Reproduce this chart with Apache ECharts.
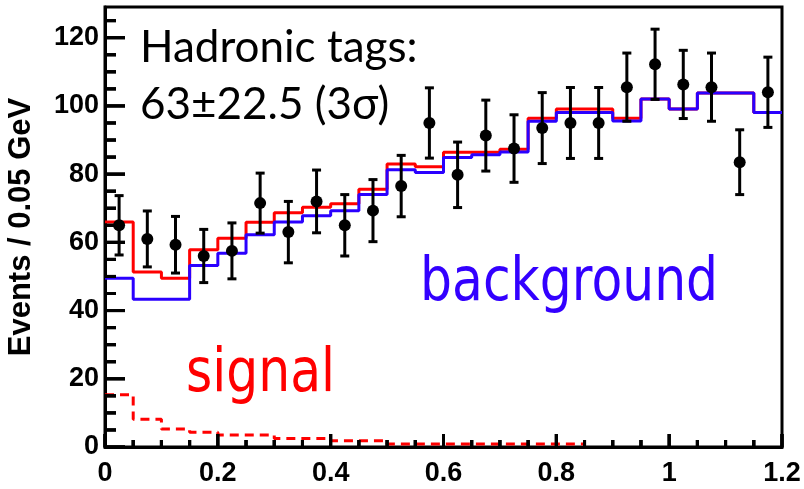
<!DOCTYPE html>
<html>
<head>
<meta charset="utf-8">
<script src="https://cdn.jsdelivr.net/npm/echarts@6/dist/echarts.min.js"></script>
<style>
html,body{margin:0;padding:0;background:#fff;}
#chart{width:804px;height:489px;}
</style>
</head>
<body>
<div id="chart"></div>
<script>
// ---- data ----
const binEdges = [0, 0.05, 0.1, 0.15, 0.2, 0.25, 0.3, 0.35, 0.4, 0.45, 0.5, 0.55, 0.6,
                  0.65, 0.7, 0.75, 0.8, 0.85, 0.9, 0.95, 1.0, 1.05, 1.1, 1.15, 1.2];
const binCenters = [0.025, 0.075, 0.125, 0.175, 0.225, 0.275, 0.325, 0.375, 0.425, 0.475,
                    0.525, 0.575, 0.625, 0.675, 0.725, 0.775, 0.825, 0.875, 0.925, 0.975,
                    1.025, 1.075, 1.125, 1.175];
const dataValues = [65, 61, 59.3, 56, 57.5, 71.5, 63, 72, 65, 69.3, 76.5, 95, 79.8, 91.3,
                    87.5, 93.5, 95, 95, 105.5, 112.2, 106.3, 105.5, 83.5, 104];
const dataErrors = [8.7, 8.2, 8.3, 7.8, 8.2, 8.8, 9, 9.2, 9, 9.1, 9, 10.3, 9.6, 10.4,
                    9.9, 10.4, 10.4, 10.4, 10, 10.3, 10, 10, 9.5, 10.3];
const background = [49.5, 43.3, 43.3, 53.2, 56.8, 62.2, 66.0, 67.8, 69.3, 74.0, 81.3, 80.5,
                    84.9, 85.7, 86.5, 95.5, 98.1, 98.1, 95.6, 102.0, 99.1, 103.8, 103.8, 98.1];
const total = [66, 51.3, 49.5, 57.8, 61.2, 65.9, 68.7, 70.3, 71.3, 75.6, 83.0, 82.2,
               86.4, 86.4, 87.3, 96.4, 99.1, 99.1, 96.4, 102.0, 99.1, 103.8, 103.8, 98.1];
const signal = [15.3, 8.1, 5.3, 4.3, 3.5, 3.5, 2.5, 2.5, 1.8, 1.8, 0.9, 0.9, 0.9, 0.9,
                0.9, 0.9, 0.9];
// tick positions
const xMajorTicks = [0, 0.2, 0.4, 0.6, 0.8, 1.0, 1.2];
const xMinorTicks = [0.05, 0.1, 0.15, 0.25, 0.3, 0.35, 0.45, 0.5, 0.55, 0.65, 0.7, 0.75,
                     0.85, 0.9, 0.95, 1.05, 1.1, 1.15];
const yMajorTicks = [0, 20, 40, 60, 80, 100, 120];
const yMinorTicks = [5, 10, 15, 25, 30, 35, 45, 50, 55, 65, 70, 75, 85, 90, 95, 105, 110, 115, 125];
const yTitle = 'Events / 0.05 GeV';
const annotLine1 = 'Hadronic tags:';
const annotLine2 = '63±22.5 (3σ)';
const bgLabel = 'background';
const sigLabel = 'signal';

// ---- helpers ----
function stepData(vals) {
  const out = [];
  for (let i = 0; i <= vals.length; i++) {
    out.push([binEdges[i], vals[Math.min(i, vals.length - 1)]]);
  }
  return out;
}
const pointData = binCenters.map((c, i) => [c, dataValues[i], dataErrors[i]]);
// [x, y, isYAxisTick, length]
const tickData = []
  .concat(xMajorTicks.map(v => [v, 0, 0, 13]))
  .concat(xMinorTicks.map(v => [v, 0, 0, 7]))
  .concat(yMajorTicks.map(v => [0, v, 1, 20]))
  .concat(yMinorTicks.map(v => [0, v, 1, 11]));
// same ticks as rectangular scatter symbols
const tickSymbols = tickData.map(t => ({
  value: [t[0], t[1]],
  symbolSize: t[2] > 0.5 ? [t[3], 3] : [3, t[3]],
  symbolOffset: t[2] > 0.5 ? [t[3] / 2, 0] : [0, -t[3] / 2]
}));

const chart = echarts.init(document.getElementById('chart'), null, {renderer: 'canvas'});
const axisFont = {fontFamily: 'Liberation Sans', fontWeight: 'bold', fontSize: 27, color: '#000'};
const frameLine = {show: true, onZero: false, lineStyle: {color: '#000', width: 3}};

const textGraphics = [
  {type: 'text', id: 't1', left: 140, top: 26, z: 10,
   style: {text: annotLine1, font: '44px Lato', fill: '#000'}},
  {type: 'text', id: 't2', left: 140, top: 83, z: 10,
   style: {text: annotLine2, font: '44px Lato', fill: '#000'}},
  {type: 'text', id: 't3', x: 420, y: 254, scaleX: 0.84, z: 10,
   style: {text: bgLabel, font: '60px "DejaVu Sans"', fill: '#3300ff', textVerticalAlign: 'top'}},
  {type: 'text', id: 't4', x: 186, y: 345, scaleX: 0.84, z: 10,
   style: {text: sigLabel, font: '60px "DejaVu Sans"', fill: '#ff0000', textVerticalAlign: 'top'}}
];

chart.setOption({
  animation: false,
  backgroundColor: '#fff',
  grid: {left: 105, right: 22, top: 7, bottom: 42, show: true, borderColor: '#000', borderWidth: 3,
         backgroundColor: 'transparent', containLabel: false, outerBoundsMode: 'none'},
  xAxis: {
    type: 'value', min: 0, max: 1.2, interval: 0.2,
    axisLine: frameLine,
    axisTick: {show: false},
    splitLine: {show: false},
    axisLabel: Object.assign({show: true, margin: 13}, axisFont)
  },
  yAxis: {
    type: 'value', min: 0, max: 129, interval: 20,
    name: yTitle, nameLocation: 'middle', nameGap: 68, nameRotate: 90,
    nameTextStyle: {fontFamily: 'Liberation Sans', fontWeight: 'bold', fontSize: 31, color: '#000'},
    axisLine: frameLine,
    axisTick: {show: false},
    splitLine: {show: false},
    axisLabel: Object.assign({show: true, margin: 6, showMaxLabel: false}, axisFont)
  },
  series: [
    {
      type: 'line', name: 'total', step: 'end', showSymbol: false, z: 2,
      data: stepData(total),
      lineStyle: {color: '#ff0000', width: 3}
    },
    {
      type: 'line', name: 'background', step: 'end', showSymbol: false, z: 3,
      data: stepData(background),
      lineStyle: {color: '#2a00ff', width: 3}
    },
    {
      type: 'line', name: 'signal', step: 'end', showSymbol: false, z: 3,
      data: stepData(signal),
      lineStyle: {color: '#ff0000', width: 3, type: [9, 6]}
    },
    {
      type: 'custom', name: 'errors', z: 4,
      data: pointData,
      renderItem: function (params, api) {
        const x = api.value(0), y = api.value(1), e = api.value(2);
        const top = api.coord([x, y + e]);
        const bot = api.coord([x, y - e]);
        const hw = 4.5;
        const st = {stroke: '#000', lineWidth: 3};
        return {type: 'group', children: [
          {type: 'line', shape: {x1: top[0], y1: top[1], x2: bot[0], y2: bot[1]}, style: st},
          {type: 'line', shape: {x1: top[0] - hw, y1: top[1], x2: top[0] + hw, y2: top[1]}, style: st},
          {type: 'line', shape: {x1: bot[0] - hw, y1: bot[1], x2: bot[0] + hw, y2: bot[1]}, style: st}
        ]};
      }
    },
    {
      type: 'custom', name: 'ticks', z: 4,
      data: tickData,
      renderItem: function (params, api) {
        const p = api.coord([api.value(0), api.value(1)]);
        const isY = api.value(2) > 0.5;
        const len = api.value(3);
        const st = {stroke: '#000', lineWidth: 3};
        const shape = isY
          ? {x1: p[0], y1: p[1], x2: p[0] + len, y2: p[1]}
          : {x1: p[0], y1: p[1], x2: p[0], y2: p[1] - len};
        return {type: 'group', children: [{type: 'line', shape: shape, style: st}]};
      }
    },
    {
      type: 'scatter', name: 'tickMarks', z: 6, clip: false, silent: true,
      data: tickSymbols,
      symbol: 'rect',
      itemStyle: {color: '#000', opacity: 1}
    },
    {
      type: 'scatter', name: 'data', z: 5,
      data: pointData.map(p => [p[0], p[1]]),
      symbol: 'circle', symbolSize: 12,
      itemStyle: {color: '#000', opacity: 1}
    }
  ],
  graphic: textGraphics
});

// axis ticks positioned through the chart's own scales
try {
  const tickGraphics = tickData.map(function (t, i) {
    const p = chart.convertToPixel({gridIndex: 0}, [t[0], t[1]]);
    const shape = t[2] > 0.5
      ? {x1: p[0], y1: p[1], x2: p[0] + t[3], y2: p[1]}
      : {x1: p[0], y1: p[1], x2: p[0], y2: p[1] - t[3]};
    return {type: 'line', id: 'tick' + i, z: 9, shape: shape, style: {stroke: '#000', lineWidth: 3}};
  });
  chart.setOption({graphic: textGraphics.concat(tickGraphics)});
} catch (e) { /* keep chart as is */ }
</script>
</body>
</html>
